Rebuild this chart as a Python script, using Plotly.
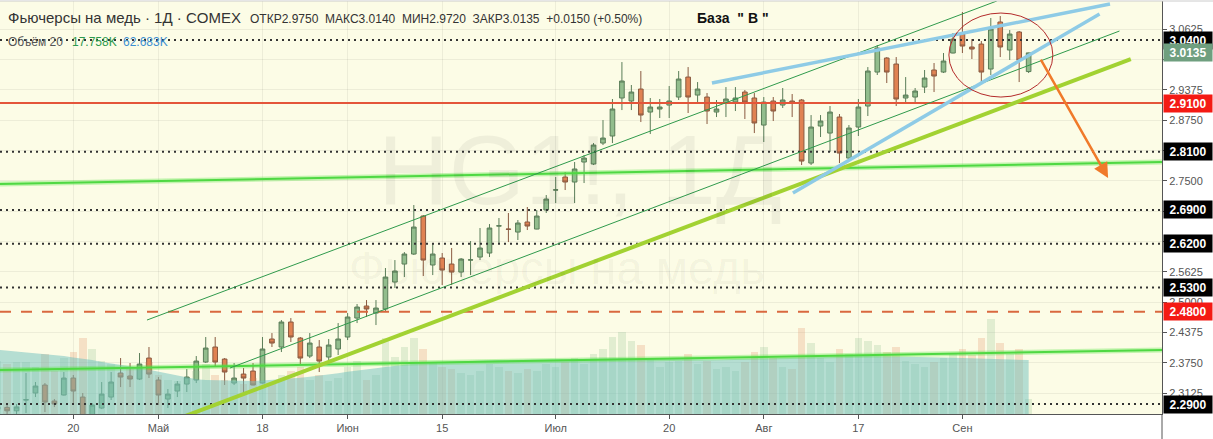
import plotly.graph_objects as go

# ---------------- data (trading-day index 0 = 13 Apr 2020) ----------------
day_index = [-3, -2, -1] + list(range(107))
opens = [2.279, 2.283, 2.276,
         2.298, 2.3126, 2.3291, 2.2961, 2.3085, 2.3435, 2.3043, 2.258, 2.2817, 2.3043,
         2.3538, 2.3477, 2.3414, 2.3847, 2.3394, 2.3002, 2.3167, 2.3311, 2.3394, 2.3765,
         2.4074, 2.3826, 2.3332, 2.3517, 2.3579, 2.3332, 2.4239, 2.4074, 2.4589, 2.4259,
         2.3888, 2.4074, 2.3868, 2.4033, 2.4280, 2.4671, 2.4919, 2.4774, 2.4857, 2.5413,
         2.5784, 2.5990, 2.6773, 2.5764, 2.5908, 2.5784, 2.5619, 2.5866, 2.5928, 2.6011,
         2.6567, 2.6505, 2.6443, 2.6650, 2.6505, 2.6897, 2.7309, 2.7577, 2.7474, 2.7886,
         2.7845, 2.8277, 2.8422, 2.9205, 2.9143, 2.9390, 2.8916, 2.8978, 2.9060, 2.9225,
         2.9637, 2.9266, 2.9225, 2.8916, 2.9102, 2.9122, 2.9328, 2.9205, 2.8648, 2.9143,
         2.9060, 2.9143, 2.9164, 2.7865, 2.8628, 2.8483, 2.8813, 2.7968, 2.8607, 2.9040,
         2.9740, 3.0029, 2.9905, 2.9205, 2.9225, 2.9431, 2.9782, 2.9740, 3.0132, 3.0523,
         3.0256, 3.0317, 2.9802, 3.0771, 3.0194, 3.0565, 2.9750]
highs = [2.290, 2.288, 2.290,
         2.3538, 2.3353, 2.3332, 2.3002, 2.3559, 2.3497, 2.3126, 2.2920, 2.3353, 2.3559,
         2.3847, 2.3744, 2.3950, 2.4074, 2.3456, 2.3208, 2.3373, 2.3620, 2.3888, 2.4280,
         2.4280, 2.3847, 2.3744, 2.3641, 2.3744, 2.4280, 2.4362, 2.4630, 2.4671, 2.4280,
         2.4362, 2.4218, 2.4239, 2.4568, 2.4774, 2.4960, 2.5042, 2.5042, 2.5702, 2.5866,
         2.6031, 2.7000, 2.6794, 2.6196, 2.6011, 2.6114, 2.5908, 2.6258, 2.6526, 2.6608,
         2.6732, 2.6835, 2.6691, 2.6959, 2.6897, 2.7206, 2.7577, 2.7680, 2.7886, 2.8030,
         2.8277, 2.8751, 2.9184, 2.9946, 2.9473, 2.9761, 2.9205, 2.9184, 2.9452, 2.9761,
         2.9843, 2.9534, 2.9308, 2.9164, 2.9431, 2.9431, 2.9370, 2.9308, 2.9225, 2.9225,
         2.9411, 2.9287, 2.9184, 2.8854, 2.8854, 2.9040, 2.8875, 2.8648, 2.9184, 2.9843,
         3.0297, 3.0049, 3.0049, 2.9637, 2.9411, 2.9782, 2.9926, 3.0132, 3.0544, 3.0977,
         3.0420, 3.0379, 3.0853, 3.0894, 3.0606, 3.0585, 3.0140]
lows = [2.262, 2.262, 2.263,
        2.2714, 2.3043, 2.2734, 2.2837, 2.3075, 2.2920, 2.2500, 2.2520, 2.2796, 2.2982,
        2.3249, 2.3249, 2.3394, 2.3435, 2.2879, 2.2817, 2.3043, 2.3147, 2.3332, 2.3744,
        2.3662, 2.3291, 2.3291, 2.3126, 2.3285, 2.3325, 2.4074, 2.3971, 2.4177, 2.3703,
        2.3847, 2.3559, 2.3806, 2.3909, 2.4218, 2.4568, 2.4692, 2.4527, 2.4795, 2.5289,
        2.5516, 2.5970, 2.5537, 2.5557, 2.5351, 2.5351, 2.5516, 2.5557, 2.5866, 2.5928,
        2.6217, 2.6237, 2.6279, 2.6485, 2.6500, 2.6835, 2.7041, 2.7309, 2.7041, 2.7453,
        2.7824, 2.8236, 2.8277, 2.8957, 2.8957, 2.8710, 2.8463, 2.8793, 2.8793, 2.9164,
        2.8896, 2.9102, 2.8669, 2.8813, 2.8813, 2.8937, 2.8772, 2.8483, 2.8298, 2.8731,
        2.8999, 2.8813, 2.7824, 2.7824, 2.8401, 2.8092, 2.7865, 2.7927, 2.8422, 2.8834,
        2.9679, 2.9514, 2.9040, 2.9122, 2.9122, 2.9308, 2.9328, 2.9720, 3.0125, 3.0132,
        3.0008, 2.9534, 2.9679, 3.0049, 2.9988, 2.9534, 2.9720]
closes = [2.284, 2.276, 2.284,
          2.299, 2.3270, 2.2940, 2.2899, 2.3435, 2.3167, 2.2569, 2.2879, 2.3105, 2.3353,
          2.3456, 2.3414, 2.3723, 2.3517, 2.3085, 2.3105, 2.3311, 2.3456, 2.3785, 2.4053,
          2.3765, 2.3559, 2.3435, 2.3435, 2.3291, 2.4033, 2.4156, 2.4589, 2.4280, 2.3847,
          2.4156, 2.3785, 2.4115, 2.4239, 2.4692, 2.4898, 2.4857, 2.4877, 2.5516, 2.5640,
          2.5990, 2.6546, 2.5866, 2.5990, 2.5660, 2.5619, 2.5887, 2.5870, 2.6114, 2.6526,
          2.6572, 2.6500, 2.6629, 2.6567, 2.6773, 2.7123, 2.7312, 2.7474, 2.7742, 2.7968,
          2.8236, 2.8380, 2.8978, 2.9555, 2.9328, 2.8854, 2.9019, 2.9019, 2.9143, 2.9596,
          2.9225, 2.9390, 2.8937, 2.8978, 2.9184, 2.9205, 2.9122, 2.8690, 2.9122, 2.8937,
          2.9164, 2.9102, 2.7906, 2.8607, 2.8731, 2.8916, 2.8071, 2.8586, 2.9019, 2.9761,
          3.0235, 2.9740, 2.9184, 2.9266, 2.9349, 2.9617, 2.9658, 2.9967, 3.0420, 3.0276,
          3.0214, 2.9740, 3.0626, 3.0256, 3.0523, 2.9985, 3.0135]
volumes = [62, 58, 60,
           60, 55, 70, 50, 65, 72, 88, 75, 62, 58,
           48, 52, 55, 60, 45, 40, 38, 42, 50, 58,
           45, 40, 38, 35, 42, 48, 36, 45, 50, 55,
           40, 45, 38, 42, 55, 62, 40, 45, 88, 66,
           78, 88, 75, 60, 55, 52, 48, 45, 50, 58,
           55, 50, 48, 52, 50, 58, 55, 60, 65, 58,
           70, 75, 90, 95, 85, 80, 65, 55, 60, 62,
           70, 58, 62, 52, 55, 50, 60, 72, 78, 65,
           55, 52, 100, 82, 65, 60, 75, 70, 88, 85,
           80, 72, 78, 62, 58, 55, 60, 65, 70, 75,
           68, 88, 110, 82, 70, 75, 17.758]
vol_ma = [74.5, 73.5, 72.5,
          71.5, 70.5, 69.6, 68.5, 67.5, 65.6, 64.3, 62.7, 60.3, 58.7,
          57.0, 55.5, 53.8, 51.3, 49.2, 46.9, 44.9, 42.6, 40.4, 39.4,
          39.1, 38.8, 38.5, 38.4, 38.4, 38.9, 39.6, 40.6, 41.6, 42.0,
          43.3, 44.5, 45.9, 47.4, 49.0, 50.6, 51.7, 53.1, 54.5, 56.0,
          57.2, 58.5, 59.5, 60.0, 60.5, 61.0, 61.4, 61.8, 62.2, 62.5,
          62.7, 62.9, 63.1, 63.3, 63.5, 63.7, 63.9, 64.1, 64.3, 64.5,
          64.7, 65.0, 64.9, 64.7, 64.5, 64.3, 64.1, 63.9, 63.7, 63.5,
          63.3, 63.0, 63.2, 63.4, 63.6, 63.8, 64.0, 64.2, 64.4, 64.6,
          64.8, 65.0, 65.4, 65.8, 66.2, 66.6, 67.0, 67.4, 67.4, 67.3,
          67.2, 67.0, 66.8, 66.6, 66.4, 66.2, 66.0, 65.8, 65.5, 65.2,
          64.9, 64.6, 64.3, 64.0, 63.5, 63.0, 62.683]

tick_pos = [5, 14, 25, 34, 44, 56, 68, 78, 88, 99]
tick_text = ["20", "Май", "18", "Июн", "15", "Июл", "20", "Авг", "17", "Сен"]
price_ticks = [2.3125, 2.375, 2.4375, 2.5, 2.5625, 2.625, 2.6875, 2.75,
               2.8125, 2.875, 2.9375, 3.0, 3.0625]
hidden_ticks = [2.625, 2.6875, 2.8125, 3.0]   # covered by the price badges
dotted_levels = [3.04, 2.81, 2.69, 2.62, 2.53, 2.29]
red_level = 2.91
red_dash_level = 2.48
last_price = 3.0135

# drawings: ((x0, y0), (x1, y1)) in (day index, price)
green_lines = [((-2.75, 2.7433), (120.1, 2.7886)), ((-2.75, 2.3600), (120.1, 2.4012))]
yellow_line = ((16.28, 2.2611), (116.8, 3.0008))
channel_lines = [((12.79, 2.4630), (102.64, 3.1204)), ((21.56, 2.3641), (115.6, 3.0585))]
blue_lines = [((72.52, 2.9514), (114.6, 3.1142)), ((81.08, 2.7247), (113.5, 3.0936))]
ellipse_box = (97.57, 2.9225, 108.56, 3.0956)
arrow_line = ((107.2, 3.0029), (114.4, 2.7556))

X_RANGE = [-2.75, 120.1]
Y_RANGE = [2.2694, 3.1204]

fig = go.Figure()

# volume MA area
fig.add_trace(go.Scatter(x=day_index, y=vol_ma, yaxis="y2", mode="lines",
                         line=dict(width=0, color="rgba(110,190,190,0.5)"),
                         fill="tozeroy", fillcolor="rgba(110,192,190,0.5)",
                         hoverinfo="skip", showlegend=False))
# volume bars
vol_colors = ["rgba(143,190,143,0.25)" if c >= o else "rgba(225,128,80,0.22)"
              for o, c in zip(opens, closes)]
fig.add_trace(go.Bar(x=day_index, y=volumes, yaxis="y2", marker_color=vol_colors,
                     marker_line_width=0, width=0.8, showlegend=False, hoverinfo="skip"))

# candles
fig.add_trace(go.Candlestick(
    x=day_index, open=opens, high=highs, low=lows, close=closes,
    increasing=dict(line=dict(color="#5a7d58", width=1), fillcolor="#92bd8d"),
    decreasing=dict(line=dict(color="#8a5a40", width=1), fillcolor="#e08252"),
    whiskerwidth=0, showlegend=False))

shapes = []
for lv in dotted_levels:
    shapes.append(dict(type="line", xref="paper", x0=0, x1=1, yref="y", y0=lv, y1=lv,
                       line=dict(color="#333333", width=2, dash="2px,4px")))
shapes.append(dict(type="line", xref="paper", x0=0, x1=1, yref="y", y0=red_level, y1=red_level,
                   line=dict(color="#e4553a", width=2)))
shapes.append(dict(type="line", xref="paper", x0=0, x1=1, yref="y", y0=red_dash_level,
                   y1=red_dash_level, line=dict(color="#d9683f", width=2, dash="11px,10px")))


def seg(p, color, width):
    return dict(type="line", xref="x", yref="y", x0=p[0][0], y0=p[0][1],
                x1=p[1][0], y1=p[1][1], line=dict(color=color, width=width))


for g in green_lines:
    shapes.append(seg(g, "rgba(90,230,70,0.35)", 5))
    shapes.append(seg(g, "#4fd843", 2))
shapes.append(seg(yellow_line, "#a2d232", 4))
for c in channel_lines:
    shapes.append(seg(c, "#2f9a4c", 1))
for b in blue_lines:
    shapes.append(seg(b, "#8ecbe6", 3.5))
shapes.append(dict(type="circle", xref="x", yref="y", x0=ellipse_box[0], y0=ellipse_box[1],
                   x1=ellipse_box[2], y1=ellipse_box[3], line=dict(color="#b32a2a", width=1)))
shapes.append(dict(type="line", xref="paper", yref="paper", x0=1, x1=1, y0=0, y1=-0.07,
                   line=dict(color="#555555", width=1)))
shapes.append(dict(type="line", xref="paper", yref="paper", x0=0, x1=1.05, y0=1, y1=1,
                   line=dict(color="#cccccc", width=1)))

annotations = []
annotations.append(dict(x=arrow_line[1][0], y=arrow_line[1][1], ax=arrow_line[0][0],
                        ay=arrow_line[0][1], xref="x", yref="y", axref="x", ayref="y",
                        text="", showarrow=True, arrowhead=2, arrowsize=1.2,
                        arrowwidth=2.5, arrowcolor="#f07a2a"))
# watermarks
annotations.append(dict(x=0.499, y=0.59, xref="paper", yref="paper", text="HG1!, 1Д",
                        xanchor="center", yanchor="middle", showarrow=False,
                        font=dict(size=98, color="rgba(0,0,0,0.05)", family="Liberation Sans")))
annotations.append(dict(x=0.479, y=0.355, xref="paper", yref="paper", text="Фьючерсы на медь",
                        xanchor="center", yanchor="middle", showarrow=False,
                        font=dict(size=47, color="rgba(0,0,0,0.05)", family="Liberation Sans")))


def header(px, py, text, size, color, bold=False):
    return dict(x=px / 1162, y=(414 - py) / 413, xref="paper", yref="paper",
                xanchor="left", yanchor="middle", showarrow=False,
                text=("<b>%s</b>" % text) if bold else text,
                font=dict(size=size, color=color, family="Liberation Sans"))


annotations.append(header(6, 18, "Фьючерсы на медь · 1Д · COMEX", 15, "#333333"))
annotations.append(header(248, 19, "ОТКР2.9750  МАКС3.0140  МИН2.9720  ЗАКР3.0135  +0.0150 (+0.50%)",
                          12, "#333333"))
annotations.append(header(6, 42, "Объём 20", 12, "#555555"))
annotations.append(header(70, 42, "17.758K", 12, "#2e9a4f"))
annotations.append(header(121, 42, "62.683K", 12, "#3d8fd1"))
annotations.append(header(695, 18, "База  \" В \"", 14, "#111111", bold=True))

badges = [(lv, "#000000") for lv in dotted_levels] + [(red_level, "#f41a14"),
                                                     (red_dash_level, "#f41a14"),
                                                     (last_price, "#6f9f7f")]
for lv, col in badges:
    annotations.append(dict(x=1, xref="paper", xanchor="left", xshift=1, y=lv, yref="y",
                            yanchor="middle", text="<b>%.4f</b>" % lv, showarrow=False,
                            bgcolor=col, width=46, height=15, borderpad=1,
                            font=dict(size=12, color="white", family="Liberation Sans")))

fig.update_layout(
    width=1213, height=439,
    margin=dict(l=0, r=51, t=1, b=25),
    paper_bgcolor="white", plot_bgcolor="#fcfce6",
    showlegend=False, bargap=0, hovermode=False,
    shapes=shapes, annotations=annotations,
    xaxis=dict(range=X_RANGE, tickvals=tick_pos, ticktext=tick_text,
               showgrid=True, gridcolor="rgba(0,0,0,0.06)", zeroline=False,
               showline=True, linecolor="#555555", ticks="outside", ticklen=4,
               tickcolor="#555555", rangeslider=dict(visible=False),
               tickfont=dict(size=11, color="#555555", family="Liberation Sans")),
    yaxis=dict(range=Y_RANGE, side="right", tickvals=price_ticks,
               ticktext=["" if t in hidden_ticks else "%.4f" % t for t in price_ticks],
               showgrid=True, gridcolor="rgba(0,0,0,0.06)", zeroline=False,
               showline=True, linecolor="#555555", ticks="outside", ticklen=4,
               tickcolor="#555555",
               tickfont=dict(size=11, color="#555555", family="Liberation Sans")),
    yaxis2=dict(range=[0, 480], overlaying="y", visible=False),
)

fig.write_html("out.html", config={"displayModeBar": False},
               post_script="document.body.style.margin='0px';")
